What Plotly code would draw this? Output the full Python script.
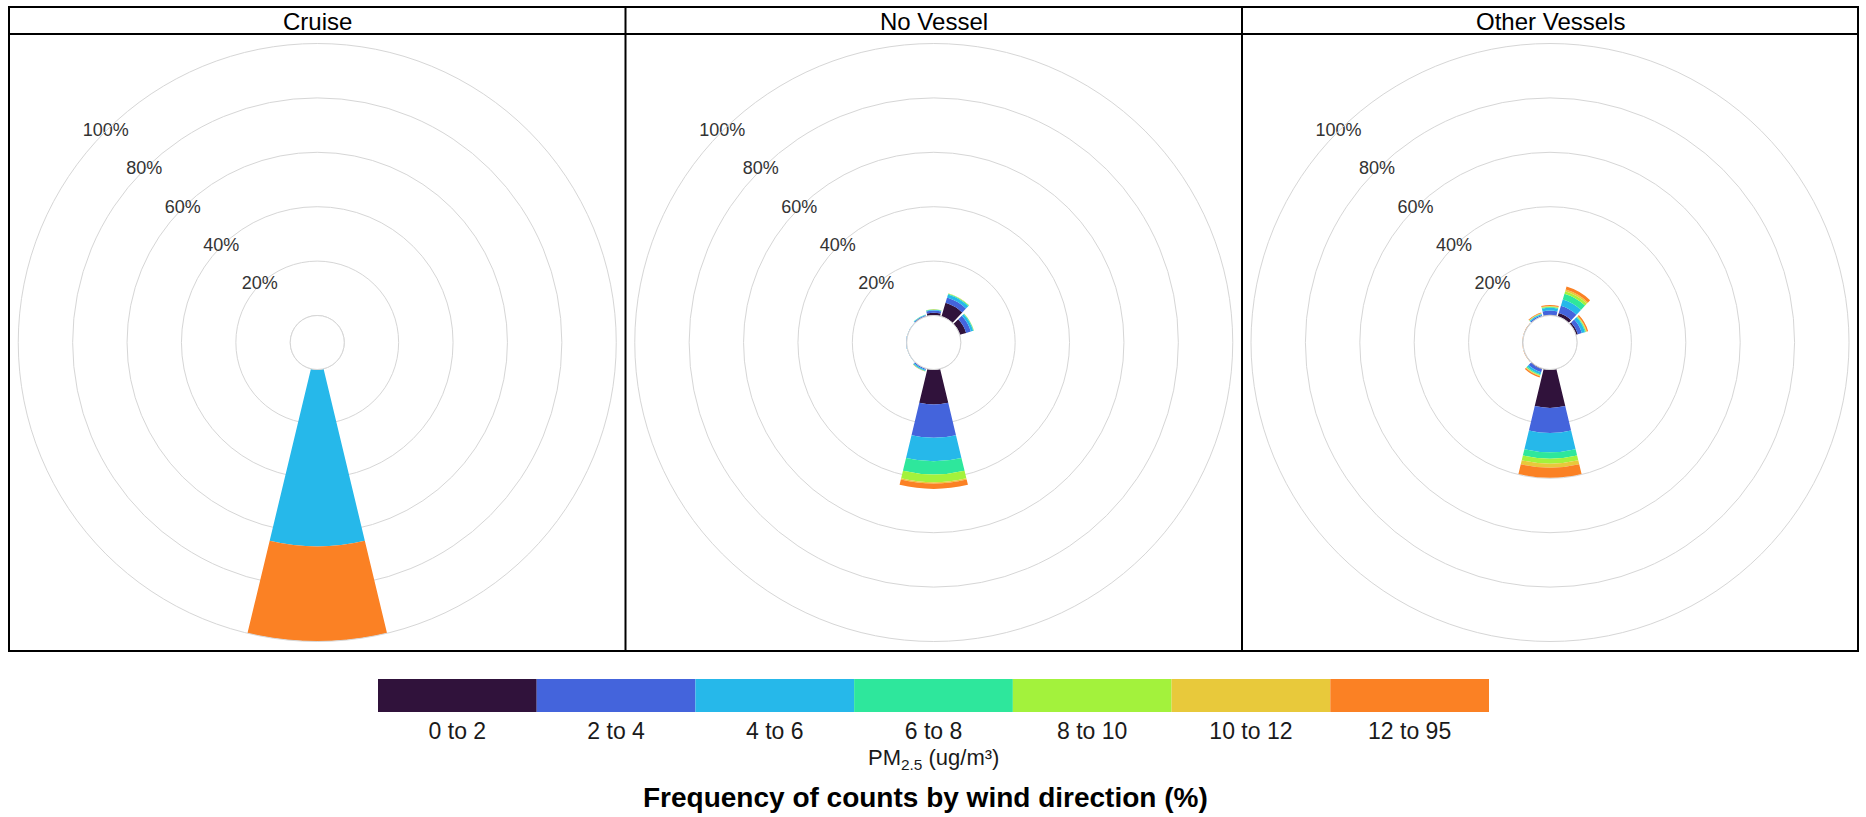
import plotly.graph_objects as go

W, H = 1866, 817

# ---------------- data ----------------
panels = ["Cruise", "No Vessel", "Other Vessels"]
bins = ["0 to 2", "2 to 4", "4 to 6", "6 to 8", "8 to 10", "10 to 12", "12 to 95"]
bin_colors = ["#30123b", "#4464dc", "#26b8ea", "#2ee79c", "#a3f23c", "#e8c93b", "#fb8124"]
directions = [0, 30, 60, 90, 120, 150, 180, 210, 240, 270, 300, 330]

# frequency (%) per concentration bin, per wind direction
cruise_0_2 = [0, 0, 0, 0, 0, 0, 0, 0, 0, 0, 0, 0]
cruise_2_4 = [0, 0, 0, 0, 0, 0, 0, 0, 0, 0, 0, 0]
cruise_4_6 = [0, 0, 0, 0, 0, 0, 65, 0, 0, 0, 0, 0]
cruise_6_8 = [0, 0, 0, 0, 0, 0, 0, 0, 0, 0, 0, 0]
cruise_8_10 = [0, 0, 0, 0, 0, 0, 0, 0, 0, 0, 0, 0]
cruise_10_12 = [0, 0, 0, 0, 0, 0, 0, 0, 0, 0, 0, 0]
cruise_12_95 = [0, 0, 0, 0, 0, 0, 35, 0, 0, 0, 0, 0]

novessel_0_2 = [1.0, 5.3, 2.5, 0, 0, 0, 12.9, 0.1, 0, 0, 0, 0.2]
novessel_2_4 = [0.8, 2.0, 1.8, 0, 0, 0, 12.2, 0.5, 0.1, 0.2, 0.1, 0.3]
novessel_4_6 = [0.3, 1.2, 0.9, 0, 0, 0, 8.6, 0.4, 0.1, 0.1, 0.1, 0.2]
novessel_6_8 = [0.1, 0.3, 0.2, 0, 0, 0, 4.9, 0.1, 0, 0, 0, 0.1]
novessel_8_10 = [0.05, 0.1, 0.05, 0, 0, 0, 2.8, 0.05, 0, 0, 0, 0]
novessel_10_12 = [0.05, 0.05, 0.05, 0, 0, 0, 0.5, 0, 0, 0, 0, 0]
novessel_12_95 = [0, 0.05, 0, 0, 0, 0, 2.0, 0.05, 0, 0, 0, 0]

other_0_2 = [0.3, 1.4, 0.8, 0, 0, 0, 14.1, 0.3, 0, 0, 0, 0.1]
other_2_4 = [1.5, 2.8, 1.5, 0, 0, 0, 9.2, 1.2, 0.1, 0.1, 0.1, 0.5]
other_4_6 = [1.0, 2.4, 1.2, 0, 0, 0, 7.1, 0.8, 0.1, 0.1, 0.1, 0.4]
other_6_8 = [0.3, 2.2, 0.3, 0, 0, 0, 2.4, 0.3, 0, 0, 0, 0.1]
other_8_10 = [0.2, 0.9, 0.2, 0, 0, 0, 1.8, 0.2, 0, 0, 0, 0.1]
other_10_12 = [0.2, 0.7, 0.2, 0, 0, 0, 1.5, 0.2, 0, 0, 0, 0.1]
other_12_95 = [0.4, 1.1, 0.5, 0, 0, 0, 3.7, 0.5, 0.1, 0.1, 0.1, 0.3]

radial_ticks = [20, 40, 60, 80, 100]
radial_labels = ["20%", "40%", "60%", "80%", "100%"]

panel_data = [
    [cruise_0_2, cruise_2_4, cruise_4_6, cruise_6_8, cruise_8_10, cruise_10_12, cruise_12_95],
    [novessel_0_2, novessel_2_4, novessel_4_6, novessel_6_8, novessel_8_10, novessel_10_12, novessel_12_95],
    [other_0_2, other_2_4, other_4_6, other_6_8, other_8_10, other_10_12, other_12_95],
]

# ---------------- layout geometry (pixels) ----------------
FONT = "Liberation Sans, Arial, sans-serif"
frame_left, frame_right = 9, 1858
frame_top, strip_bottom, frame_bottom = 7, 34, 651
dividers = [625.5, 1242]
panel_edges = [frame_left, dividers[0], dividers[1], frame_right]
R_OUT = 299
HOLE_PX = 27

def px(x):
    return x / W

def py(y):
    return 1 - y / H

fig = go.Figure()
layout_polars = {}
for i, name in enumerate(panels):
    cx = (panel_edges[i] + panel_edges[i + 1]) / 2
    cy = (strip_bottom + frame_bottom) / 2
    pname = "polar" if i == 0 else f"polar{i + 1}"
    layout_polars[pname] = dict(
        domain=dict(x=[px(cx - R_OUT), px(cx + R_OUT)], y=[py(cy + R_OUT), py(cy - R_OUT)]),
        hole=HOLE_PX / R_OUT,
        bgcolor="white",
        barmode="stack",
        radialaxis=dict(range=[0, 100], tickvals=radial_ticks, showticklabels=False, ticks="",
                        showline=False, gridcolor="#d6d6d6", gridwidth=1),
        angularaxis=dict(direction="clockwise", rotation=90, showgrid=False, showticklabels=False,
                         ticks="", showline=True, linecolor="#d6d6d6", linewidth=1),
    )
    sub = pname
    for b, (bname, col) in enumerate(zip(bins, bin_colors)):
        fig.add_trace(go.Barpolar(
            r=panel_data[i][b], theta=directions, width=27,
            marker=dict(color=col, line=dict(width=0)),
            name=bname, showlegend=False, subplot=sub, hoverinfo="skip",
        ))
    # inner hole circle
    fig.add_trace(go.Scatterpolar(
        r=[0] * 73, theta=list(range(0, 365, 5)), mode="lines",
        line=dict(color="#d6d6d6", width=1), showlegend=False, subplot=sub, hoverinfo="skip"))
    # radial labels
    fig.add_trace(go.Scatterpolar(
        r=radial_ticks, theta=[315] * 5, mode="text", text=radial_labels,
        textfont=dict(family=FONT, size=18, color="#333333"), textposition="middle center",
        showlegend=False, subplot=sub, hoverinfo="skip"))

# discrete colour key
fig.add_trace(go.Bar(
    x=bins, y=[1] * len(bins), marker=dict(color=bin_colors, line=dict(width=0)),
    width=1, showlegend=False, hoverinfo="skip", xaxis="x", yaxis="y"))

shapes = []
line = dict(color="black", width=2)
shapes.append(dict(type="rect", xref="paper", yref="paper", x0=px(frame_left), x1=px(frame_right),
                   y0=py(frame_bottom), y1=py(frame_top), line=line))
shapes.append(dict(type="line", xref="paper", yref="paper", x0=px(frame_left), x1=px(frame_right),
                   y0=py(strip_bottom), y1=py(strip_bottom), line=line))
for d in dividers:
    shapes.append(dict(type="line", xref="paper", yref="paper", x0=px(d), x1=px(d),
                       y0=py(frame_bottom), y1=py(frame_top), line=line))

annotations = []
for i, name in enumerate(panels):
    cx = (panel_edges[i] + panel_edges[i + 1]) / 2
    annotations.append(dict(text=name, x=px(cx), y=py((frame_top + strip_bottom) / 2 + 0.5), xref="paper",
                            yref="paper", showarrow=False, xanchor="center", yanchor="middle",
                            font=dict(family=FONT, size=24, color="black")))
annotations.append(dict(text="PM<sub>2.5</sub> (ug/m³)", x=px(933.5), y=py(759), xref="paper", yref="paper",
                        showarrow=False, xanchor="center", yanchor="middle",
                        font=dict(family=FONT, size=22, color="#1a1a1a")))
annotations.append(dict(text="<b>Frequency of counts by wind direction (%)</b>", x=px(925), y=py(797),
                        xref="paper", yref="paper", showarrow=False, xanchor="center", yanchor="middle",
                        font=dict(family=FONT, size=28, color="black")))

fig.update_layout(
    width=W, height=H, margin=dict(l=0, r=0, t=0, b=0),
    paper_bgcolor="white", plot_bgcolor="white",
    font=dict(family=FONT),
    shapes=shapes, annotations=annotations,
    xaxis=dict(domain=[px(378), px(1489)], range=[-0.5, 6.5], showgrid=False, zeroline=False,
               showline=False, ticks="", ticklabelstandoff=3,
               tickfont=dict(family=FONT, size=23, color="#1a1a1a"), fixedrange=True),
    yaxis=dict(domain=[py(712), py(679)], range=[0, 1], showgrid=False, zeroline=False,
               showline=False, showticklabels=False, fixedrange=True),
    **layout_polars,
)

fig.write_html("out.html", post_script="document.body.style.margin='0';",
               config={"displayModeBar": False})
